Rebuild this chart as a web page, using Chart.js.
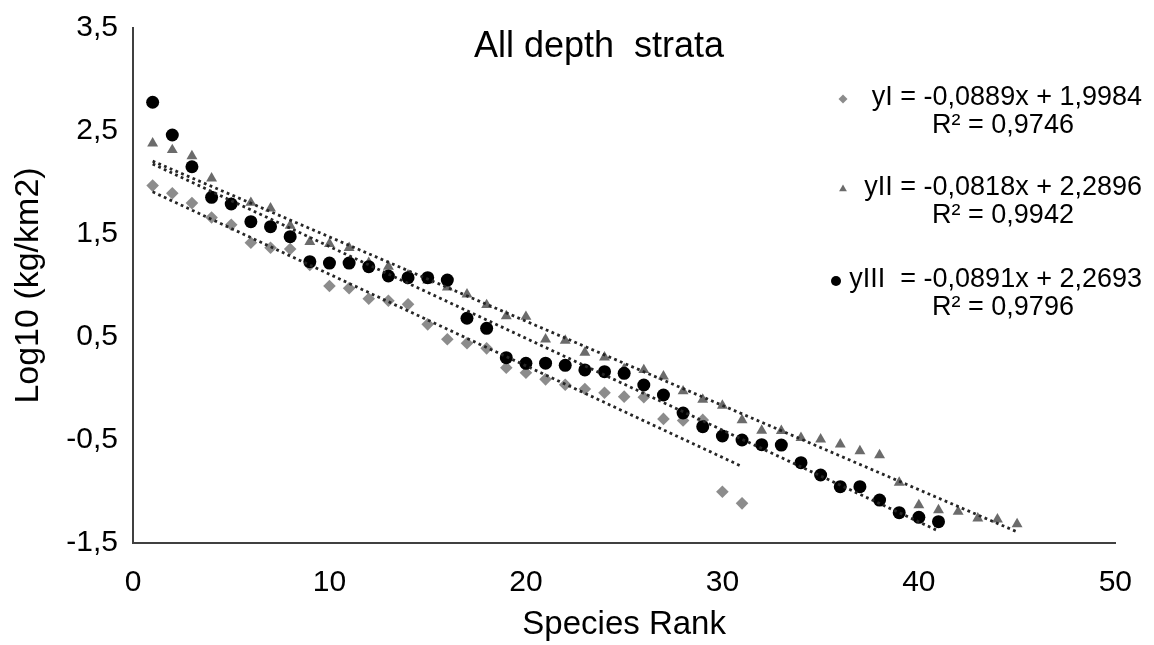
<!DOCTYPE html>
<html>
<head>
<meta charset="utf-8">
<script src="https://cdn.jsdelivr.net/npm/chart.js@4/dist/chart.umd.min.js"></script>
<style>
  body { margin: 0; background: #fff; }
  #chart { display: block; }
</style>
</head>
<body>
<canvas id="chart" width="1154" height="645"></canvas>
<script>
// values (Log10 kg/km2 by species rank)
const stratumI = [1.97, 1.895, 1.80, 1.66, 1.59, 1.415, 1.367, 1.354, 1.20, 0.995,
    0.973, 0.872, 0.852, 0.817, 0.623, 0.478, 0.439, 0.39, 0.202, 0.153,
    0.089, 0.036, -0.005, -0.041, -0.079, -0.085, -0.295, -0.31, -0.305, -1.002,
    -1.115];
const stratumII = [2.38, 2.316, 2.257, 2.041, 1.80, 1.804, 1.749, 1.581, 1.425, 1.405,
    1.366, 1.22, 1.183, 1.10, 1.05, 0.983, 0.915, 0.811, 0.704, 0.697,
    0.478, 0.466, 0.348, 0.303, 0.19, 0.18, 0.118, -0.026, -0.108, -0.165,
    -0.306, -0.408, -0.41, -0.478, -0.493, -0.542, -0.607, -0.646, -0.914, -1.131,
    -1.18, -1.196, -1.26, -1.27, -1.316];
const stratumIII = [2.779, 2.461, 2.153, 1.856, 1.791, 1.62, 1.571, 1.474, 1.231, 1.218,
    1.218, 1.183, 1.092, 1.076, 1.076, 1.053, 0.682, 0.584, 0.299, 0.244,
    0.246, 0.225, 0.18, 0.163, 0.147, 0.034, -0.063, -0.238, -0.371, -0.461,
    -0.5, -0.545, -0.549, -0.72, -0.84, -0.953, -0.953, -1.083, -1.206, -1.251,
    -1.293];

// linear trendlines as printed on the chart
const slopes = [-0.0889, -0.0818, -0.0891];
const intercepts = [1.9984, 2.2896, 2.2693];
const eqLabels = ['yI = -0,0889x + 1,9984', 'yII = -0,0818x + 2,2896', 'yIII  = -0,0891x + 2,2693'];
const r2Labels = ['R² = 0,9746', 'R² = 0,9942', 'R² = 0,9796'];

const xTicks = [0, 10, 20, 30, 40, 50];
const yTicks = [-1.5, -0.5, 0.5, 1.5, 2.5, 3.5];

const colors = ['#8c8c8c', '#6b6b6b', '#000000'];
const styles = ['rectRot', 'triangle', 'circle'];
const FONT = '"Liberation Sans", Arial, sans-serif';

const toPoints = arr => arr.map((v, i) => ({ x: i + 1, y: v }));
const trend = (k, n) => [1, n].map(x => ({ x: x, y: slopes[k] * x + intercepts[k] }));

const series = [stratumI, stratumII, stratumIII];

const scatterSets = series.map((arr, k) => ({
    type: 'scatter',
    data: toPoints(arr),
    pointStyle: styles[k],
    pointRadius: k === 2 ? 6.5 : 6.3,
    backgroundColor: colors[k],
    borderColor: colors[k],
    borderWidth: 0,
    order: 3 - k
}));

const trendSets = series.map((arr, k) => ({
    type: 'line',
    data: trend(k, arr.length),
    borderColor: '#262626',
    borderWidth: 2.8,
    borderDash: [2.8, 3.4],
    pointRadius: 0,
    fill: false,
    order: 0
}));

// title and equation labels
const textPlugin = {
    id: 'texts',
    afterDraw(chart) {
        const ctx = chart.ctx;
        ctx.save();
        ctx.fillStyle = '#000';
        ctx.font = '36px ' + FONT;
        ctx.textAlign = 'center';
        ctx.textBaseline = 'alphabetic';
        ctx.fillText('All depth  strata', 599, 57);

        const rows = [98, 188, 280];
        const markX = [843, 843, 836];
        ctx.font = '27px ' + FONT;
        rows.forEach((y, k) => {
            ctx.textAlign = 'right';
            ctx.textBaseline = 'middle';
            ctx.fillStyle = '#000';
            ctx.fillText(eqLabels[k], 1142, y);
            ctx.textAlign = 'center';
            ctx.fillText(r2Labels[k], 1003, y + 28);
            ctx.fillStyle = colors[k];
            ctx.strokeStyle = colors[k];
            Chart.helpers.drawPoint(ctx, {
                pointStyle: styles[k],
                radius: k === 2 ? 5 : 4.5,
                borderWidth: 0,
                rotation: 0
            }, markX[k], y + 1);
        });
        ctx.restore();
    }
};

new Chart(document.getElementById('chart'), {
    data: { datasets: scatterSets.concat(trendSets) },
    options: {
        responsive: false,
        animation: false,
        devicePixelRatio: 1,
        layout: { padding: { top: 28, right: 37, bottom: 0, left: 0 } },
        plugins: {
            legend: { display: false },
            tooltip: { enabled: false }
        },
        scales: {
            x: {
                type: 'linear',
                min: 0,
                max: 50,
                afterBuildTicks: s => { s.ticks = xTicks.map(v => ({ value: v })); },
                afterFit: s => { s.height = 102; },
                grid: { display: false, drawTicks: false },
                border: { color: '#404040', width: 2 },
                ticks: {
                    color: '#000',
                    font: { family: FONT, size: 30 },
                    padding: 22,
                    maxRotation: 0
                },
                title: {
                    display: true,
                    text: 'Species Rank',
                    color: '#000',
                    font: { family: FONT, size: 33 },
                    padding: { top: 0, bottom: 0 }
                }
            },
            y: {
                type: 'linear',
                min: -1.5,
                max: 3.5,
                afterBuildTicks: s => { s.ticks = yTicks.map(v => ({ value: v })); },
                afterFit: s => { s.width = 133; s.paddingTop = 0; s.paddingBottom = 0; },
                grid: { display: false, drawTicks: false },
                border: { color: '#404040', width: 2 },
                ticks: {
                    color: '#000',
                    font: { family: FONT, size: 30 },
                    padding: 15,
                    callback: v => v.toFixed(1).replace('.', ',')
                },
                title: {
                    display: true,
                    text: 'Log10 (kg/km2)',
                    color: '#000',
                    font: { family: FONT, size: 34 },
                    padding: { top: 8, bottom: 0 }
                }
            }
        }
    },
    plugins: [textPlugin]
});
</script>
</body>
</html>
